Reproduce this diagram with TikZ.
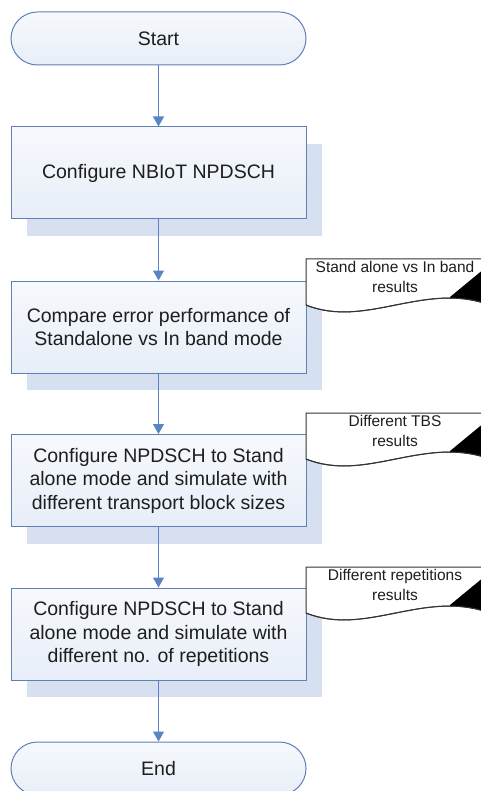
\documentclass[tikz,border=0pt]{standalone}
\usepackage{fontspec}
\setmainfont{Liberation Sans}
\usetikzlibrary{arrows.meta,shadows}

\definecolor{edgeblue}{HTML}{5F80B4}
\definecolor{arrowblue}{HTML}{5B84C4}
\definecolor{fillhi}{HTML}{F6F9FD}
\definecolor{fillmid}{HTML}{C8D8EF}
\definecolor{filllo}{HTML}{E8EEF8}
\definecolor{shadowblue}{HTML}{D6E0F0}
\definecolor{inktext}{HTML}{1E1E1E}

\begin{document}
\begin{tikzpicture}[x=1pt,y=-1pt,
  flowfill/.style={top color=fillhi, middle color=fillmid, bottom color=filllo},
  mainfont/.style={font=\fontsize{19.5}{23.5}\selectfont, text=inktext},
  process/.style={draw=edgeblue, line width=1pt, flowfill, mainfont,
    minimum width=295pt, minimum height=92pt, align=center, inner sep=0pt,
    drop shadow={shadow xshift=16pt, shadow yshift=-17pt, fill=shadowblue, opacity=1}},
  terminal/.style={draw=edgeblue, line width=1pt, flowfill, mainfont,
    rounded corners=26.5pt, minimum width=295pt, minimum height=53pt, inner sep=0pt},
  flow/.style={draw=arrowblue, line width=1.2pt, -{Triangle[width=11pt,length=10pt]}},
  doctext/.style={align=center, font=\fontsize{15.5}{20}\selectfont, text=inktext, inner sep=0pt},
  docline/.style={draw=black!80, line width=1pt, fill=white}]

\useasboundingbox (0,0) rectangle (481,791);
\clip (0,0) rectangle (481,791);

% flow steps
\node[terminal] (start) at (158.5,38.5) {Start};
\node[process] (cfg) at (158.5,173) {Configure NBIoT NPDSCH};
\node[process] (cmp) at (158.5,327) {Compare error performance of\\Standalone vs In band mode};
\node[process] (tbs) at (158.5,480.5) {Configure NPDSCH to Stand\\alone mode and simulate with\\different transport block sizes};
\node[process] (rep) at (158.5,634) {Configure NPDSCH to Stand\\alone mode and simulate with\\different no. of repetitions};
\node[terminal] (end) at (158.5,768.5) {End};

% result documents beside the steps
\foreach \t/\name/\label in {259/docA/{Stand alone vs In band\\results},
                             413/docB/{Different TBS\\results},
                             567/docC/{Different repetitions\\results}}{
  \begin{scope}
    \path[docline] (306,\t) -- (490,\t) -- (490,\t+46)
      .. controls (424,\t+22) and (366,\t+70) .. (306,\t+46) -- cycle;
    \clip (306,\t) -- (490,\t) -- (490,\t+46)
      .. controls (424,\t+22) and (366,\t+70) .. (306,\t+46) -- cycle;
    \fill[black] (450,\t+38) -- (490,\t+5) -- (490,\t+70) -- (450,\t+70) -- cycle;
  \end{scope}
  \draw[black!80, line width=1pt] (490,\t+46)
      .. controls (424,\t+22) and (366,\t+70) .. (306,\t+46);
  \node[doctext, anchor=north] (\name) at (395,\t+2.5) {\label};
}

% connectors
\draw[flow] (start) -- (cfg);
\draw[flow] (cfg) -- (cmp);
\draw[flow] (cmp) -- (tbs);
\draw[flow] (tbs) -- (rep);
\draw[flow] (rep) -- (end);
\end{tikzpicture}
\end{document}
